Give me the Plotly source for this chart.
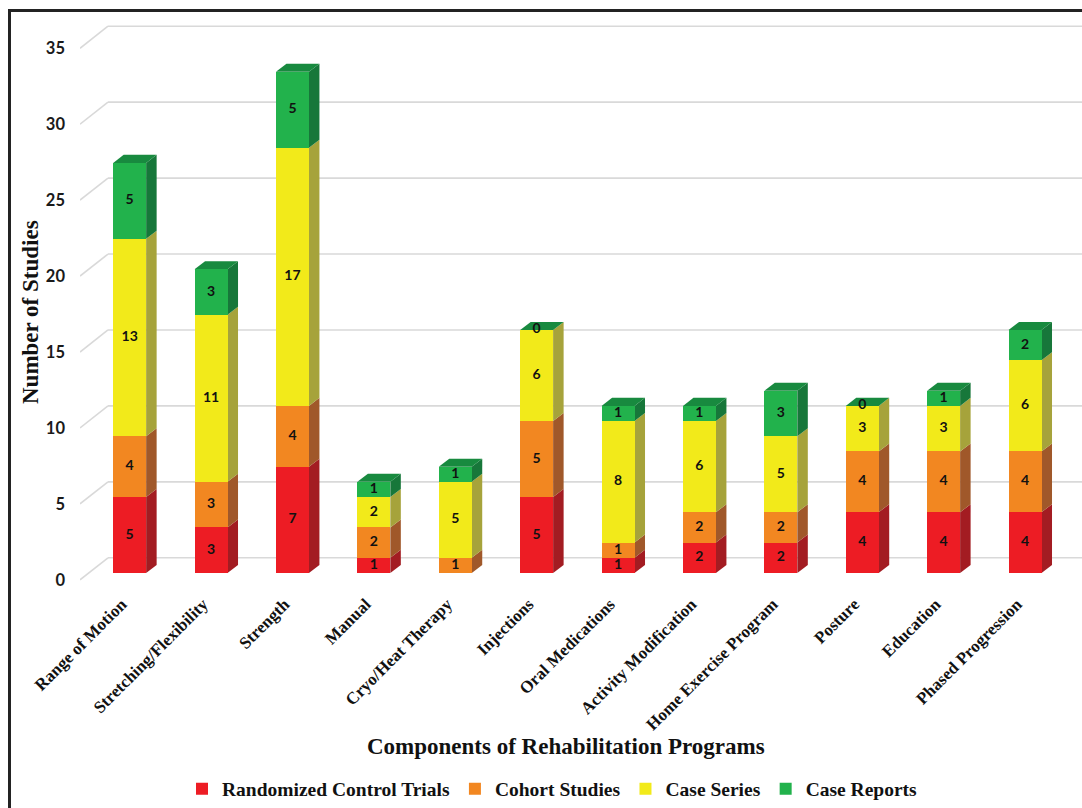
import plotly.graph_objects as go

# ---- data -------------------------------------------------------------
categories = [
    "Range of Motion", "Stretching/Flexibility", "Strength", "Manual",
    "Cryo/Heat Therapy", "Injections", "Oral Medications",
    "Activity Modification", "Home Exercise Program", "Posture",
    "Education", "Phased Progression",
]
series_names = ["Randomized Control Trials", "Cohort Studies", "Case Series", "Case Reports"]
randomized_control_trials = [5, 3, 7, 1, None, 5, 1, 2, 2, 4, 4, 4]
cohort_studies = [4, 3, 4, 2, 1, 5, 1, 2, 2, 4, 4, 4]
case_series = [13, 11, 17, 2, 5, 6, 8, 6, 5, 3, 3, 6]
case_reports = [5, 3, 5, 1, 1, 0, 1, 1, 3, 0, 1, 2]
y_ticks = [0, 5, 10, 15, 20, 25, 30, 35]

series_values = [randomized_control_trials, cohort_studies, case_series, case_reports]

# ---- styling ----------------------------------------------------------
front_colors = ["#ED1C24", "#F28721", "#F2EA1A", "#22B24C"]
side_colors = ["#A31C22", "#A0582A", "#A6A33B", "#17773A"]
top_colors = ["#B81F25", "#B8652A", "#BDBA33", "#188A3F"]

W, H = 1082, 808
ML, MR, MT, MB = 80, 0, 20, 218
PW, PH = W - ML - MR, H - MT - MB
X_LO, X_HI = -0.61, 11.70
Y_LO, Y_HI = -1.12, 36.41

BAR_W = 0.405          # front face width (x units)
DEPTH_X = 0.129        # 3-D depth offset of bars
DEPTH_Y = 0.53
WALL_DX = 0.344        # offset from front plane to back wall
WALL_DY = 1.0
FRONT_DY = -0.45

SERIF = "Liberation Serif, Times New Roman, serif"
SANS = "Lato, Carlito, Calibri, sans-serif"


def px_x(p):
    return (p - ML) / PW


def px_y(p):
    return (MT + PH - p) / PH


x_pos = list(range(len(categories)))
fig = go.Figure()

# front faces of the stacked bars
for name, vals, col in zip(series_names, series_values, front_colors):
    fig.add_trace(go.Bar(
        x=x_pos, y=[v if v is not None else 0 for v in vals], name=name,
        width=BAR_W, marker=dict(color=col, line=dict(width=0)),
        hoverinfo="skip",
    ))

shapes = []
# back-wall gridlines with the floor-to-wall diagonal at the left
for v in y_ticks:
    shapes.append(dict(type="line", xref="x", yref="y", layer="below",
                       x0=X_LO, y0=v + FRONT_DY, x1=X_LO + WALL_DX, y1=v + WALL_DY,
                       line=dict(color="#D9D9D9", width=1.6)))
    shapes.append(dict(type="line", xref="x", yref="y", layer="below",
                       x0=X_LO + WALL_DX, y0=v + WALL_DY, x1=X_HI, y1=v + WALL_DY,
                       line=dict(color="#D9D9D9", width=1.6)))

# side and top faces, labels
lab_x, lab_y, lab_t = [], [], []
for i in x_pos:
    base = 0.0
    xr = i + BAR_W / 2
    xl = i - BAR_W / 2
    for s, vals in enumerate(series_values):
        v = vals[i]
        h = v if v is not None else 0
        top = base + h
        if h > 0:
            shapes.append(dict(
                type="path", xref="x", yref="y", layer="below",
                path=(f"M{xr},{base} L{xr + DEPTH_X},{base + DEPTH_Y} "
                      f"L{xr + DEPTH_X},{top + DEPTH_Y} L{xr},{top} Z"),
                fillcolor=side_colors[s], line=dict(width=0)))
        if v is not None:
            lab_x.append(i)
            lab_y.append(base + h / 2)
            lab_t.append(str(v))
        base = top
    shapes.append(dict(
        type="path", xref="x", yref="y", layer="below",
        path=(f"M{xl},{base} L{xl + DEPTH_X},{base + DEPTH_Y} "
              f"L{xr + DEPTH_X},{base + DEPTH_Y} L{xr},{base} Z"),
        fillcolor=top_colors[-1], line=dict(width=0)))

fig.add_trace(go.Scatter(
    x=lab_x, y=lab_y, text=lab_t, mode="text", showlegend=False,
    textfont=dict(family=SANS, size=14, color="#111111", weight="bold"),
    hoverinfo="skip", cliponaxis=False,
))

# outer frame (top and left edges)
shapes.append(dict(type="line", xref="paper", yref="paper",
                   x0=px_x(8), y0=px_y(10.5), x1=px_x(W + 5), y1=px_y(10.5),
                   line=dict(color="#232323", width=3)))
shapes.append(dict(type="line", xref="paper", yref="paper",
                   x0=px_x(9.5), y0=px_y(9), x1=px_x(9.5), y1=px_y(H + 5),
                   line=dict(color="#232323", width=3)))

annotations = [
    dict(text="Number of Studies", xref="paper", yref="paper",
         x=px_x(30), y=px_y(312), textangle=-90, showarrow=False,
         xanchor="center", yanchor="middle",
         font=dict(family=SERIF, size=23, color="#111111", weight="bold")),
    dict(text="Components of Rehabilitation Programs", xref="paper", yref="paper",
         x=px_x(566), y=px_y(746), showarrow=False,
         xanchor="center", yanchor="middle",
         font=dict(family=SERIF, size=23, color="#111111", weight="bold")),
]

fig.update_layout(
    width=W, height=H,
    margin=dict(l=ML, r=MR, t=MT, b=MB, autoexpand=False),
    paper_bgcolor="white", plot_bgcolor="white",
    barmode="stack",
    shapes=shapes, annotations=annotations,
    showlegend=True,
    legend=dict(orientation="h", traceorder="normal",
                x=px_x(182), xanchor="left", y=px_y(789), yanchor="middle",
                font=dict(family=SERIF, size=19.5, color="#111111", weight="bold"),
                itemclick=False, itemdoubleclick=False,
                bgcolor="rgba(0,0,0,0)"),
    xaxis=dict(range=[X_LO, X_HI], tickvals=x_pos, ticktext=categories,
               tickangle=-45, showgrid=False, zeroline=False, showline=False,
               ticks="", fixedrange=True, ticklabelshift=-8,
               tickfont=dict(family=SERIF, size=17, color="#111111", weight="bold")),
    yaxis=dict(range=[Y_LO, Y_HI], tickvals=y_ticks, showgrid=False,
               zeroline=False, showline=False, ticks="", fixedrange=True,
               ticklabelshift=7, ticklabelstandoff=14,
               tickfont=dict(family=SANS, size=16.5, color="#1a1a1a", weight="bold")),
)

fig.write_html("out.html")
